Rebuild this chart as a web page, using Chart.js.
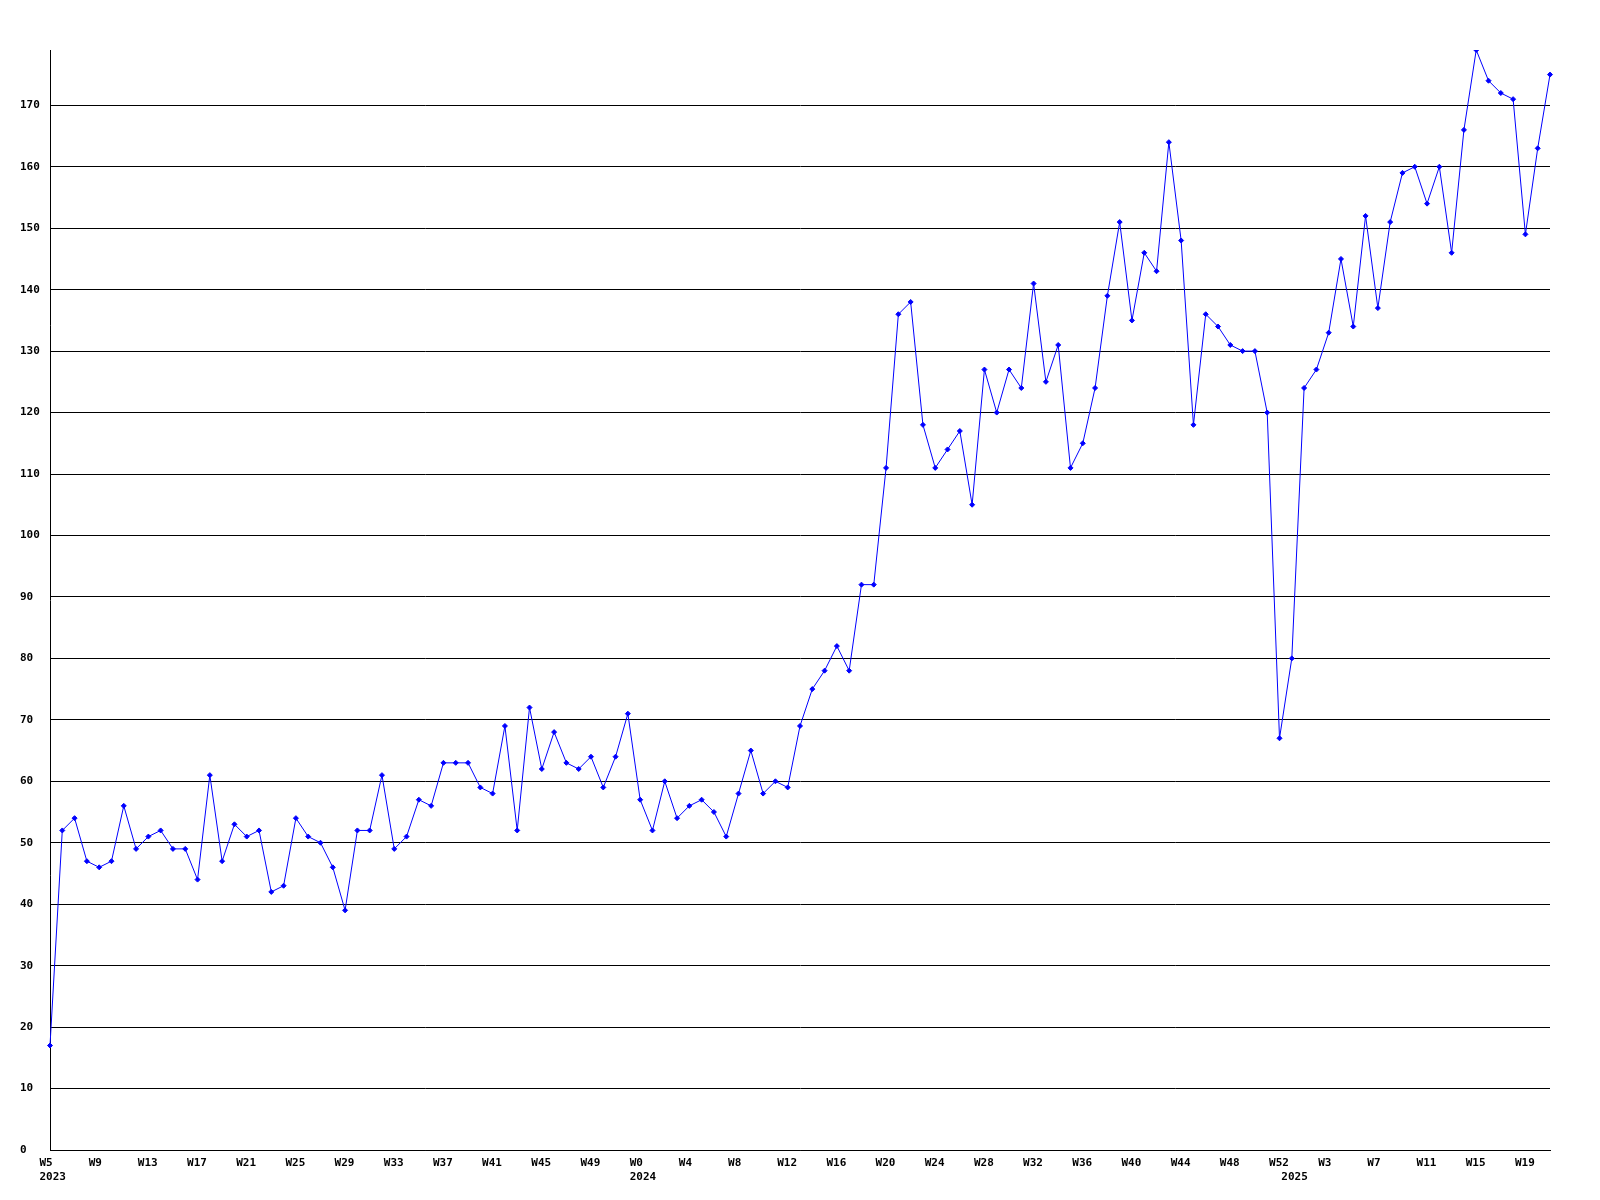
<!DOCTYPE html>
<html>
<head>
<meta charset="utf-8">
<style>
  html, body { margin: 0; padding: 0; background: #fff; }
  canvas { display: block; }
</style>
<script src="https://cdn.jsdelivr.net/npm/chart.js"></script>
</head>
<body>
<canvas id="weeklyChart" width="1600" height="1200"></canvas>
<script>
// weekly counts, W5 2023 .. W21 2025
const weeks2023 = [5, 52];
const weeks2024 = [0, 52];
const weeks2025 = [0, 21];

const values = [
  17, 52, 54, 47, 46, 47, 56, 49, 51, 52, 49, 49, 44, 61, 47, 53,
  51, 52, 42, 43, 54, 51, 50, 46, 39, 52, 52, 61, 49, 51, 57, 56,
  63, 63, 63, 59, 58, 69, 52, 72, 62, 68, 63, 62, 64, 59, 64, 71,
  57, 52, 60, 54, 56, 57, 55, 51, 58, 65, 58, 60, 59, 69, 75,
  78, 82, 78, 92, 92, 111, 136, 138, 118, 111, 114, 117, 105, 127, 120, 127,
  124, 141, 125, 131, 111, 115, 124, 139, 151, 135, 146, 143, 164, 148, 118, 136,
  134, 131, 130, 130, 120, 67, 80, 124, 127, 133, 145, 134, 152, 137, 151, 159,
  160, 154, 160, 146, 166, 179, 174, 172, 171, 149, 163, 175
];

const yMax = 179;
const yStep = 10;

// category labels: week number + year of each point
const weekNums = [];
const weekYears = [];
[[2023, weeks2023], [2024, weeks2024], [2025, weeks2025]].forEach(([yr, range]) => {
  for (let w = range[0]; w <= range[1]; w++) {
    weekNums.push(w);
    weekYears.push(yr);
  }
});
const labels = weekNums.map((w, i) => 'W' + w + ' ' + weekYears[i]);

const tickFont = { family: 'DejaVu Sans Mono', size: 11, weight: 'bold', lineHeight: 1.3 };

const ctx = document.getElementById('weeklyChart').getContext('2d');
window.weeklyChart = new Chart(ctx, {
  type: 'line',
  data: {
    labels: labels,
    datasets: [{
      data: values,
      borderColor: '#0000ff',
      backgroundColor: '#0000ff',
      borderWidth: 1,
      tension: 0,
      pointStyle: 'rectRot',
      pointRadius: 2.5,
      pointBorderWidth: 1,
      pointBackgroundColor: '#0000ff',
      pointBorderColor: '#0000ff'
    }]
  },
  options: {
    responsive: false,
    animation: false,
    layout: { padding: { left: 20, right: 50, top: 50, bottom: 0 } },
    plugins: { legend: { display: false }, tooltip: { enabled: false } },
    scales: {
      x: {
        offset: false,
        grid: { display: false, drawTicks: false },
        border: { display: true, color: '#000', width: 1 },
        afterFit: (scale) => { scale.height = 50; },
        ticks: {
          autoSkip: false,
          maxRotation: 0,
          minRotation: 0,
          align: 'start',
          labelOffset: -10.5,
          padding: 6,
          color: '#000',
          font: tickFont,
          callback: (val, i) => {
            const first = i === 0 || weekYears[i] !== weekYears[i - 1];
            const wk = i % 4 === 0 ? 'W' + weekNums[i] : '';
            if (first) return [wk, String(weekYears[i])];
            return wk;
          }
        }
      },
      y: {
        min: 0,
        max: yMax,
        grid: { color: '#000', lineWidth: 1, drawTicks: false },
        border: { display: true, color: '#000', width: 1 },
        afterFit: (scale) => { scale.width = 30; },
        ticks: {
          stepSize: yStep,
          includeBounds: false,
          crossAlign: 'far',
          color: '#000',
          font: tickFont
        }
      }
    }
  }
});
</script>
</body>
</html>
